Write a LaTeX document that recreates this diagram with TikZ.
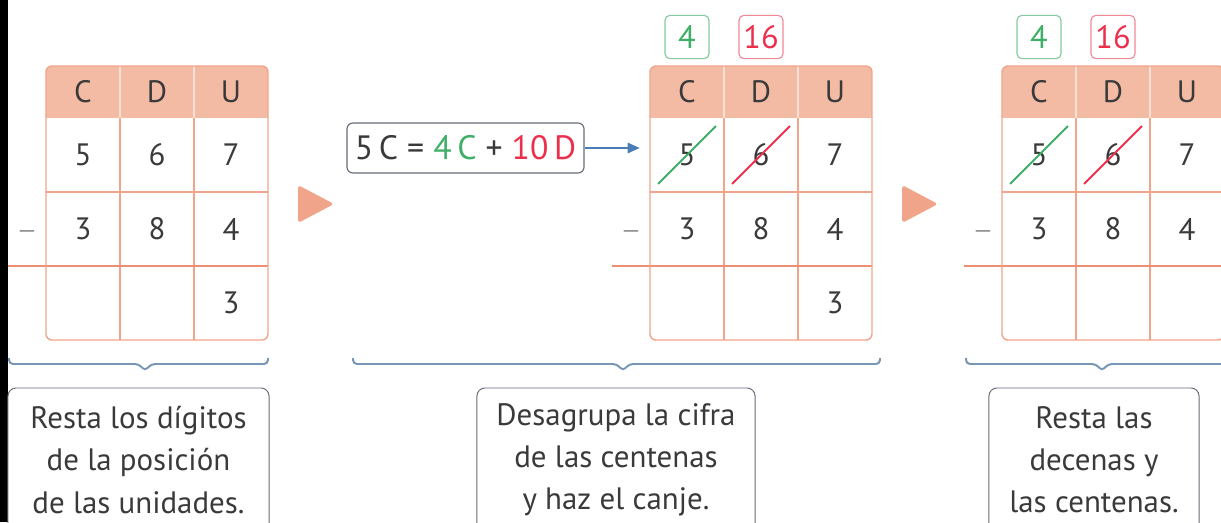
\documentclass[tikz,border=0pt]{standalone}
\usepackage{fontspec}
\setmainfont{PT Sans}
\usetikzlibrary{arrows.meta}

\definecolor{borde}{HTML}{F0A58A}
\definecolor{cabecera}{HTML}{F3BBA4}
\definecolor{separa}{HTML}{FAE0D5}
\definecolor{raya}{HTML}{EC8F73}
\definecolor{verde}{HTML}{3FAE66}
\definecolor{verdeclaro}{HTML}{86C9A0}
\definecolor{rojo}{HTML}{EC2F4B}
\definecolor{rojoclaro}{HTML}{F08A94}
\definecolor{azul}{HTML}{4A7DB5}
\definecolor{llave}{HTML}{7896B5}
\definecolor{texto}{HTML}{3A3A3A}
\definecolor{gris}{HTML}{666C75}

\tikzset{
  letra/.style={text=texto, font=\fontsize{22}{26}\selectfont},
  digito/.style={letra, minimum size=1.43cm, inner sep=0pt},
  canje/.style={draw, rounded corners=0.12cm, line width=0.8pt, minimum width=1.1cm,
    minimum height=1.08cm, inner sep=0pt, font=\fontsize{23}{26}\selectfont},
  tachado/.style={line width=1.3pt},
  flecha/.style={fill=borde, rounded corners=0.08cm},
  llaves/.style={draw=llave, line width=1.4pt, rounded corners=0.1cm},
  nota/.style={draw=gris, line width=0.7pt, rounded corners=0.2cm, align=center,
    text=texto, minimum height=3.6cm, font=\fontsize{22}{30}\selectfont}
}

\begin{document}
\begin{tikzpicture}[x=0.025cm, y=-0.025cm]
  \useasboundingbox (0,0) rectangle (1221,522);
  \clip (0,0) rectangle (1221,522);
  \fill[black] (0,0) rectangle (8,522);

  % Tablas C D U
  \foreach \t/\L in {1/46, 2/650, 3/1002}{
    \begin{scope}
      \clip[rounded corners=0.15cm] (\L,66) rectangle (\L+222,340);
      \fill[cabecera] (\L,66) rectangle (\L+222,118);
    \end{scope}
    \draw[separa, line width=1pt] (\L+74,66) -- (\L+74,118) (\L+148,66) -- (\L+148,118);
    \draw[borde, line width=1pt] (\L+74,118) -- (\L+74,340) (\L+148,118) -- (\L+148,340);
    \draw[borde, line width=1pt] (\L,192) -- (\L+222,192);
    \draw[raya, line width=1.6pt] (\L-38,266) -- (\L+222,266);
    \draw[borde, line width=1pt, rounded corners=0.15cm] (\L,66) rectangle (\L+222,340);

    \node[letra] (t\t-hc) at (\L+37,92) {C};
    \node[letra] (t\t-hd) at (\L+111,92) {D};
    \node[letra] (t\t-hu) at (\L+185,92) {U};

    % Minuendo y sustraendo
    \node[digito] (t\t-m1) at (\L+37,155) {5};
    \node[digito] (t\t-m2) at (\L+111,155) {6};
    \node[digito] (t\t-m3) at (\L+185,155) {7};
    \node[text=texto, font=\fontsize{17}{20}\selectfont] (t\t-menos) at (\L-19,231) {$-$};
    \node[digito] (t\t-s1) at (\L+37,229) {3};
    \node[digito] (t\t-s2) at (\L+111,229) {8};
    \node[digito] (t\t-s3) at (\L+185,229) {4};
  }

  % Resultado de las unidades
  \node[digito] (t1-r3) at (231,303) {3};
  \node[digito] (t2-r3) at (835,303) {3};

  % Canje tachado
  \foreach \t/\L in {2/650, 3/1002}{
    \draw[verde, tachado] (t\t-m1.south west) -- (t\t-m1.north east);
    \draw[rojo, tachado] (t\t-m2.south west) -- (t\t-m2.north east);
    \node[canje, draw=verdeclaro, text=verde] (t\t-c1) at (\L+37,37) {4};
    \node[canje, draw=rojoclaro, text=rojo] (t\t-c2) at (\L+111,37) {16};
  }

  % Flechas de paso
  \fill[flecha] (298,185) -- (334,204) -- (298,223) -- cycle;
  \fill[flecha] (902,185) -- (938,204) -- (902,223) -- cycle;

  % Desagrupar
  \node[draw=gris, rounded corners=0.15cm, line width=0.8pt, minimum width=5.925cm,
    minimum height=1.25cm, text=texto, font=\fontsize{24}{28}\selectfont] (ecuacion)
    at (465.5,148) {5\,C = {\color{verde}4\,C} + {\color{rojo}10\,D}};
  \draw[azul, line width=1.1pt, -{Triangle[length=0.3cm, width=0.26cm]},
    shorten >=0.46cm] (ecuacion.east) -- (ecuacion.east -| t2-m1.west);

  % Llaves
  \draw[llaves] (9,358) -- (9,364) -- (139,364) -- (145,371) -- (151,364) -- (268,364) -- (268,358);
  \draw[llaves] (353,358) -- (353,364) -- (617,364) -- (623,371) -- (629,364) -- (880,364) -- (880,358);
  \draw[llaves] (966,358) -- (966,364) -- (1096,364) -- (1102,371) -- (1108,364) -- (1240,364);

  % Notas
  \node[nota, minimum width=6.525cm] (nota1) at (138.5,460)
    {Resta los dígitos\\de la posición\\de las unidades.};
  \node[nota, minimum width=6.95cm] (nota2) at (616,460)
    {Desagrupa la cifra\\de las centenas\\y haz el canje.};
  \node[nota, minimum width=5.25cm] (nota3) at (1094,460)
    {Resta las\\decenas y\\las centenas.};
\end{tikzpicture}
\end{document}
